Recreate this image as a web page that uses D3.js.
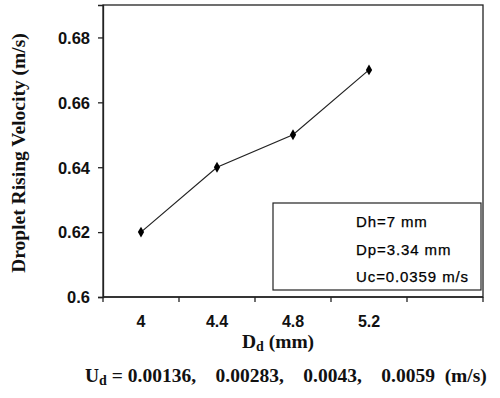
<!DOCTYPE html>
<html><head><meta charset="utf-8">
<script src="https://cdn.jsdelivr.net/npm/d3@7"></script>
<style>body{margin:0;background:#fff}svg{display:block}</style>
</head><body>
<script>
const categories = ["4", "4.4", "4.8", "5.2", ""];
const velocities = [0.62, 0.64, 0.65, 0.67];
const yTicks = [0.6, 0.62, 0.64, 0.66, 0.68];
const legendLines = ["Dh=7 mm", "Dp=3.34 mm", "Uc=0.0359 m/s"];
const udValues = ["0.00136,", "0.00283,", "0.0043,", "0.0059"];

const W = 500, H = 398;
const m = {left: 103, top: 5, right: 483, bottom: 297};
const svg = d3.select("body").append("svg").attr("width", W).attr("height", H);

const x = d3.scaleBand().domain(categories).range([m.left, m.right]).padding(0);
const y = d3.scaleLinear().domain([0.6, 0.69]).range([m.bottom, m.top]);

// plot border
svg.append("rect").attr("x", m.left).attr("y", m.top)
  .attr("width", m.right - m.left).attr("height", m.bottom - m.top)
  .attr("fill", "none").attr("stroke", "#222").attr("stroke-width", 1.3);

// y axis
const ya = svg.append("g").attr("transform", `translate(${m.left},0)`)
  .call(d3.axisLeft(y).tickValues(yTicks).tickSize(5).tickPadding(8).tickFormat(d3.format("")));
ya.select(".domain").attr("stroke", "#222").attr("stroke-width", 1.3);
ya.selectAll(".tick line").attr("stroke", "#222").attr("stroke-width", 1.3);
ya.selectAll("text").attr("font-family", "Liberation Sans, Arial, sans-serif")
  .attr("font-weight", "bold").attr("font-size", 16.5).attr("fill", "#111").attr("dy", "0.35em");

// x axis: ticks at band boundaries
const xa = svg.append("g").attr("transform", `translate(0,${m.bottom})`);
const bounds = categories.map(c => x(c)).concat([m.right]);
xa.append("line").attr("x1", m.left).attr("x2", m.right).attr("stroke", "#222").attr("stroke-width", 1.3);
xa.selectAll("line.tk").data(bounds).join("line").attr("class", "tk")
  .attr("x1", d => d).attr("x2", d => d).attr("y1", 0).attr("y2", 5)
  .attr("stroke", "#222").attr("stroke-width", 1.3);
xa.selectAll("text").data(categories).join("text")
  .attr("x", d => x(d) + x.bandwidth() / 2).attr("y", 30)
  .attr("text-anchor", "middle")
  .attr("font-family", "Liberation Sans, Arial, sans-serif")
  .attr("font-weight", "bold").attr("font-size", 16).attr("fill", "#111")
  .text(d => d);

// line + markers
const pts = velocities.map((v, i) => [x(categories[i]) + x.bandwidth() / 2, y(v)]);
svg.append("path").attr("d", d3.line()(pts)).attr("fill", "none")
  .attr("stroke", "#222").attr("stroke-width", 1.2);
svg.selectAll("path.mk").data(pts).join("path").attr("class", "mk")
  .attr("transform", d => `translate(${d[0]},${d[1]})`)
  .attr("d", d3.symbol(d3.symbolDiamond, 34)).attr("fill", "#000");

// legend box
svg.append("rect").attr("x", 273).attr("y", 203).attr("width", 208).attr("height", 87)
  .attr("fill", "#fff").attr("stroke", "#222").attr("stroke-width", 1.2);
svg.selectAll("text.lg").data(legendLines).join("text").attr("class", "lg")
  .attr("x", 356).attr("y", (d, i) => 227 + i * 27.5)
  .attr("font-family", "Liberation Sans, Arial, sans-serif")
  .attr("font-size", 15).attr("letter-spacing", 0.9).attr("fill", "#000")
  .attr("stroke", "#000").attr("stroke-width", 0.25)
  .text(d => d);

// y title
svg.append("text").attr("transform", "translate(25,153) rotate(-90)")
  .attr("text-anchor", "middle").attr("font-family", "Liberation Serif, Times New Roman, serif")
  .attr("font-weight", "bold").attr("font-size", 19.5).attr("fill", "#111")
  .text("Droplet Rising Velocity (m/s)");

// x title with subscript
const xt = svg.append("text").attr("x", 278).attr("y", 348).attr("text-anchor", "middle")
  .attr("font-family", "Liberation Serif, Times New Roman, serif")
  .attr("font-weight", "bold").attr("font-size", 19.5).attr("fill", "#111");
xt.append("tspan").text("D");
xt.append("tspan").attr("font-size", 14).attr("dy", 3).text("d");
xt.append("tspan").attr("dy", -3).text(" (mm)");

// Ud line
const ut = svg.append("text").attr("x", 85).attr("y", 382)
  .attr("font-family", "Liberation Serif, Times New Roman, serif")
  .attr("font-weight", "bold").attr("font-size", 19.5).attr("fill", "#111")
  .attr("xml:space", "preserve").style("white-space", "pre");
ut.append("tspan").text("U");
ut.append("tspan").attr("font-size", 14).attr("dy", 3).text("d");
ut.append("tspan").attr("dy", -3).text(" = " + udValues.join("    ") + "  (m/s)");
</script>
</body></html>
